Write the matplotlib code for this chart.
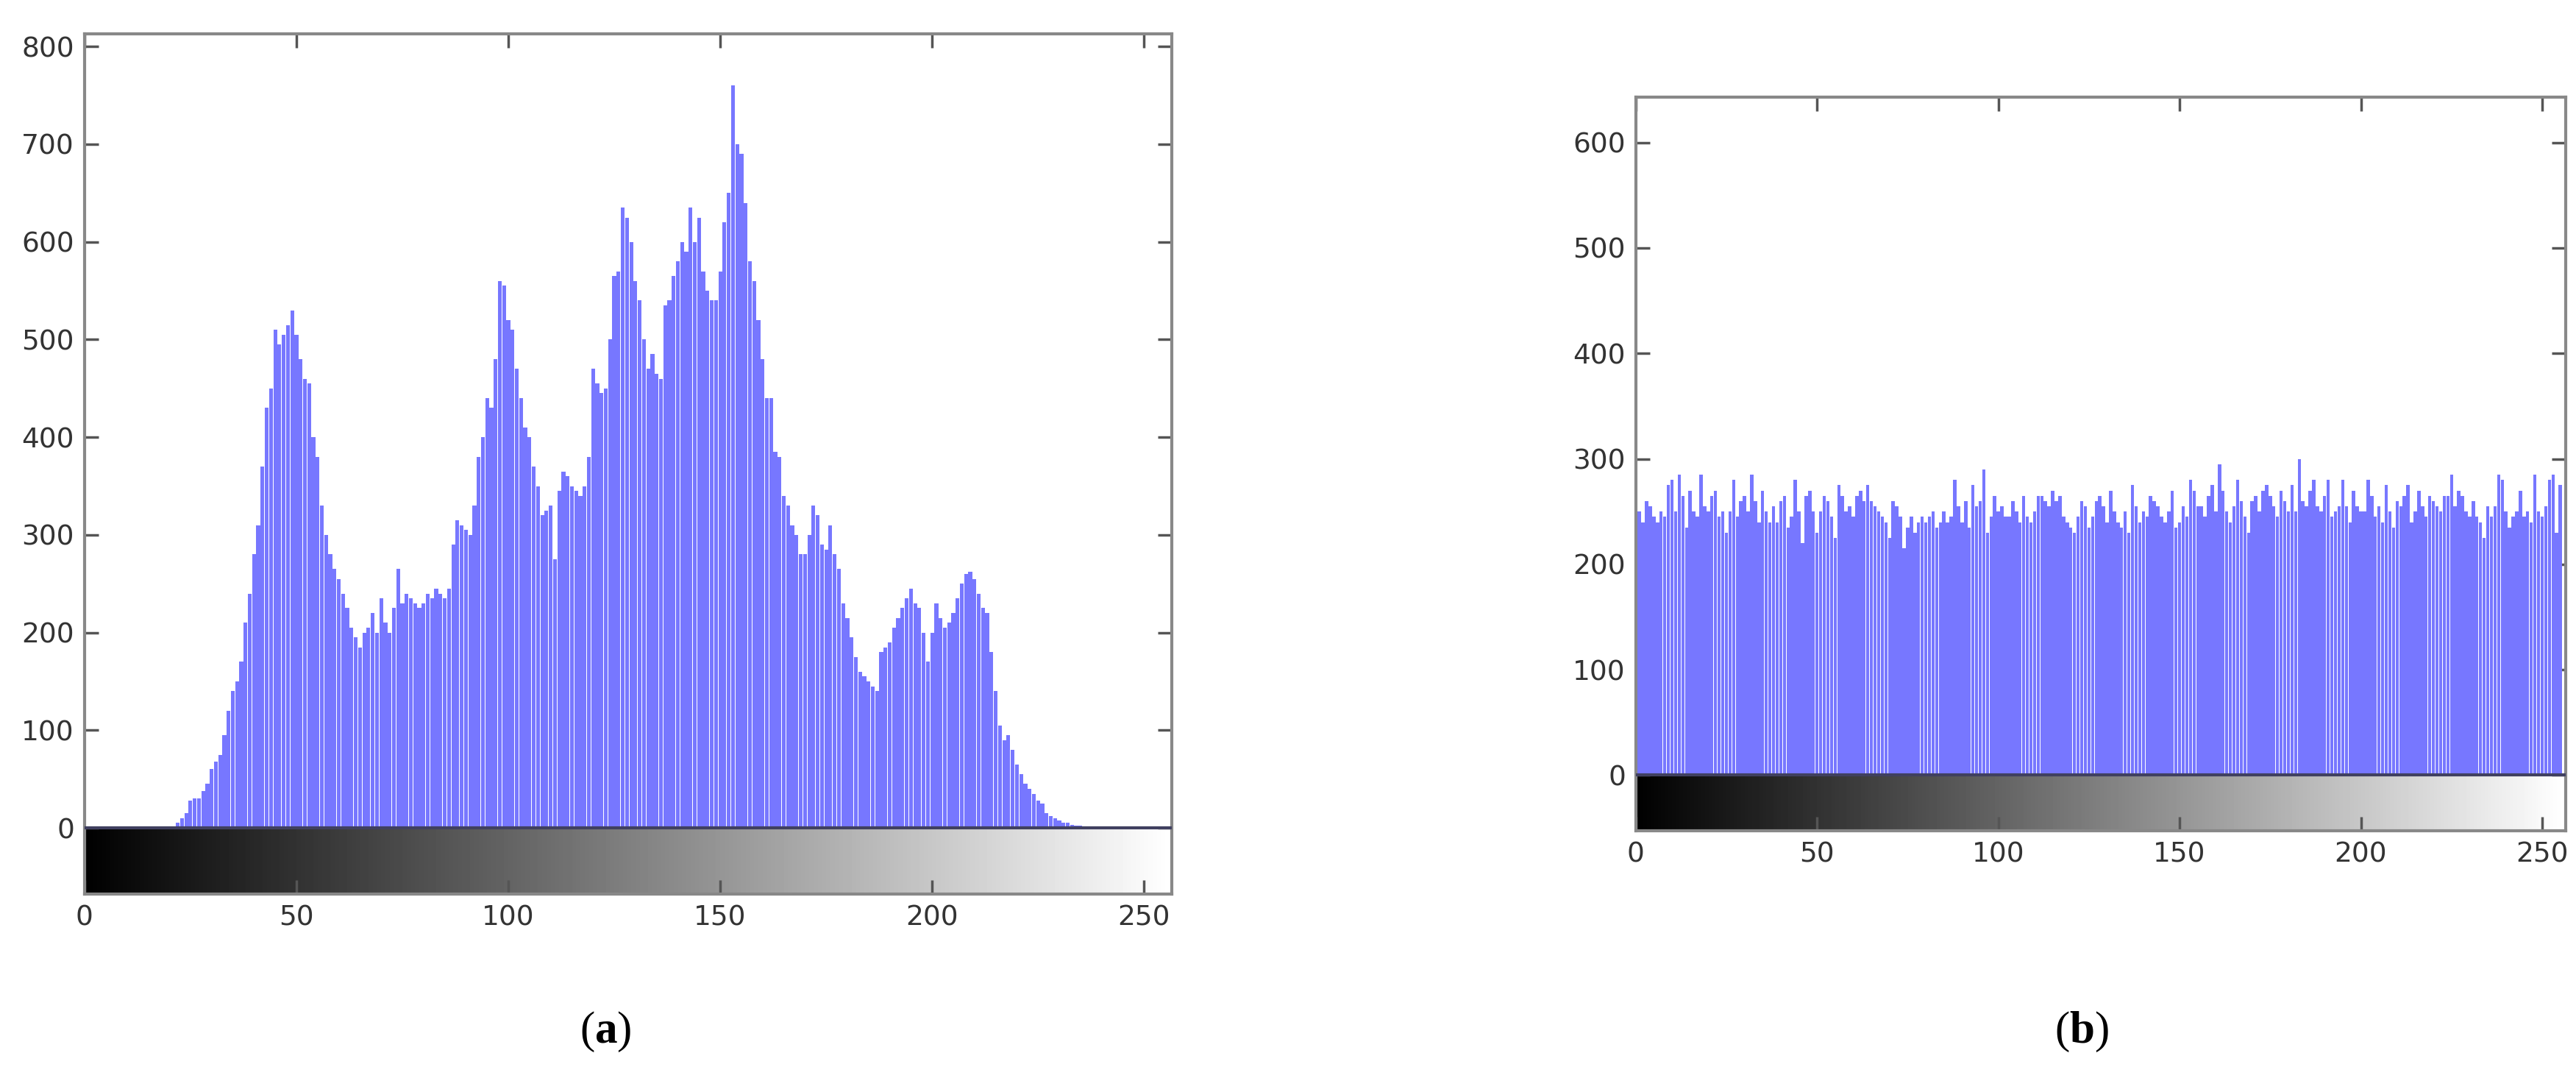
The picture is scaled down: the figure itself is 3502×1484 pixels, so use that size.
import numpy as np
import matplotlib
matplotlib.use("Agg")
import matplotlib.pyplot as plt

plt.rcParams['mathtext.fontset'] = 'custom'
plt.rcParams['mathtext.rm'] = 'Liberation Serif'
plt.rcParams['mathtext.bf'] = 'Liberation Serif:bold'

hist_a = [0]*22 + [
    5, 10, 15, 28, 30, 30, 38, 45, 60, 68, 75, 95, 120, 140, 150, 170, 210, 240,
    280, 310, 370, 430, 450, 510, 495, 505, 515, 530, 505, 480, 460, 455, 400, 380,
    330, 300, 280, 265, 255, 240, 225, 205, 195, 185, 200, 205, 220, 200, 235, 210,
    200, 225, 265, 230, 240, 235, 230, 225, 230, 240, 235, 245, 240, 235, 245, 290,
    315, 310, 305, 300, 330, 380, 400, 440, 430, 480, 560, 555, 520, 510, 470, 440,
    410, 400, 370, 350, 320, 325, 330, 275, 345, 365, 360, 350, 345, 340, 350, 380,
    470, 455, 445, 450, 500, 565, 570, 635, 625, 600, 560, 540, 500, 470, 485, 465,
    460, 535, 540, 565, 580, 600, 590, 635, 600, 625, 570, 550, 540, 540, 570, 620,
    650, 760, 700, 690, 640, 580, 560, 520, 480, 440, 440, 385, 380, 340, 330, 310,
    300, 280, 280, 300, 330, 320, 290, 285, 310, 280, 265, 230, 215, 195, 175, 160,
    155, 150, 145, 140, 180, 185, 190, 205, 215, 225, 235, 245, 230, 225, 200, 170,
    200, 230, 215, 205, 210, 220, 235, 250, 260, 262, 255, 240, 225, 220, 180, 140,
    105, 90, 95, 80, 65, 55, 45, 40, 35, 28, 25, 15, 12, 10, 8, 5, 5, 3, 2, 2] + [0]*20

hist_b = [
    255, 250, 240, 260, 255, 245, 240, 250, 245, 275, 280, 250, 285, 265, 235, 270,
    250, 245, 285, 255, 250, 265, 270, 245, 250, 230, 250, 280, 245, 260, 265, 250,
    285, 260, 240, 270, 250, 240, 255, 240, 260, 265, 235, 245, 280, 250, 220, 265,
    270, 250, 230, 250, 265, 260, 245, 225, 275, 265, 250, 255, 245, 265, 270, 260,
    275, 260, 255, 250, 245, 240, 225, 260, 255, 245, 215, 235, 245, 230, 240, 245,
    240, 245, 250, 235, 240, 250, 240, 245, 280, 255, 240, 260, 235, 275, 255, 260,
    290, 230, 245, 265, 250, 255, 245, 245, 260, 250, 240, 265, 245, 240, 250, 265,
    265, 260, 255, 270, 260, 265, 245, 240, 235, 230, 245, 260, 255, 235, 245, 260,
    265, 255, 240, 270, 250, 240, 235, 250, 230, 275, 255, 240, 250, 245, 265, 260,
    255, 245, 240, 250, 270, 235, 240, 255, 245, 280, 270, 255, 255, 245, 265, 275,
    250, 295, 270, 250, 240, 255, 280, 260, 245, 230, 260, 265, 250, 270, 275, 265,
    255, 245, 270, 260, 250, 275, 250, 300, 260, 255, 270, 280, 255, 250, 265, 280,
    245, 250, 255, 280, 255, 240, 270, 255, 250, 250, 280, 265, 245, 255, 240, 275,
    250, 235, 260, 255, 265, 275, 240, 250, 270, 255, 245, 265, 260, 255, 250, 265,
    265, 285, 255, 270, 265, 250, 245, 260, 245, 240, 225, 255, 245, 255, 285, 280,
    250, 235, 245, 250, 270, 245, 250, 240, 285, 250, 245, 255, 280, 285, 230, 275]

bins = np.arange(256)
fig = plt.figure(figsize=(35.02, 14.84), dpi=100)

def panel(rect, data, ymax, ybot, yticks, label, lx):
    ax = fig.add_axes(rect)
    ax.bar(bins, data, width=0.9, color='#7777ff', edgecolor='none', zorder=2)
    grad = np.linspace(0, 1, 256)[None, :]
    ax.imshow(grad, cmap='gray', aspect='auto', extent=[0, 256, ybot, 0], zorder=1)
    ax.axhline(0, color='#404060', lw=3, zorder=3)
    ax.set_xlim(0, 256.5)
    ax.set_ylim(ybot, ymax)
    ax.set_yticks(yticks)
    ax.set_xticks([0, 50, 100, 150, 200, 250])
    ax.tick_params(direction='in', length=14, width=2.5, color='#555555',
                   labelsize=27, labelcolor='#333333', top=True, right=True, pad=10)
    for s in ax.spines.values():
        s.set_color('#888888')
        s.set_linewidth(3)
    fig.text(lx, 0.035, r'($\mathbf{' + label + '}$)', fontsize=44,
             family='Liberation Serif', ha='center', va='bottom')
    return ax

panel([0.0328, 0.181, 0.422, 0.788], hist_a, 813, -68,
      [0, 100, 200, 300, 400, 500, 600, 700, 800], 'a', 0.235)
panel([0.635, 0.239, 0.361, 0.672], hist_b, 643, -53,
      [0, 100, 200, 300, 400, 500, 600], 'b', 0.808)

fig.savefig('out.png', dpi=100, facecolor='white')
